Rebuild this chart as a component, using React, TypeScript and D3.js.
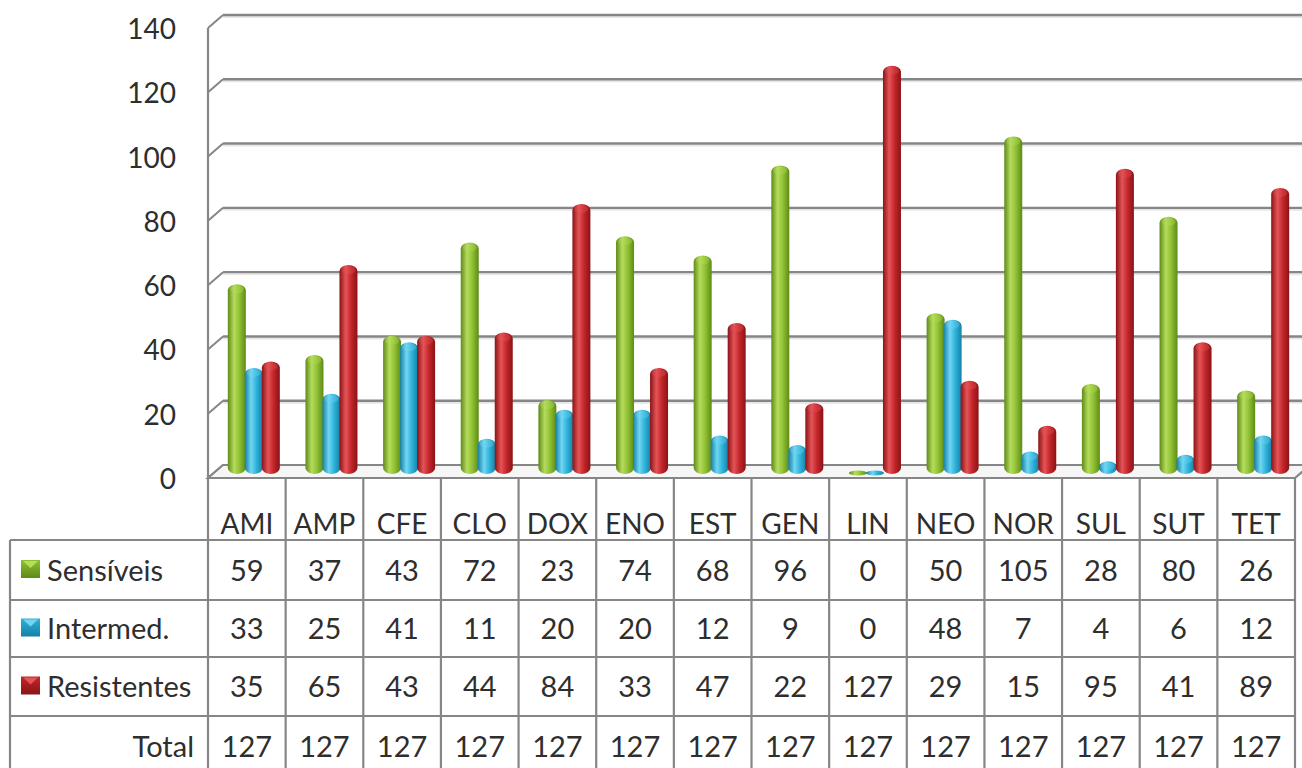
import React from "react";
import * as d3 from "d3";

const categories = ["AMI", "AMP", "CFE", "CLO", "DOX", "ENO", "EST", "GEN", "LIN", "NEO", "NOR", "SUL", "SUT", "TET"];
const sensiveis = [59, 37, 43, 72, 23, 74, 68, 96, 0, 50, 105, 28, 80, 26];
const intermed = [33, 25, 41, 11, 20, 20, 12, 9, 0, 48, 7, 4, 6, 12];
const resistentes = [35, 65, 43, 44, 84, 33, 47, 22, 127, 29, 15, 95, 41, 89];
const totals = [127, 127, 127, 127, 127, 127, 127, 127, 127, 127, 127, 127, 127, 127];
const seriesNames = ["Sensíveis", "Intermed.", "Resistentes"];
const yTicks = [0, 20, 40, 60, 80, 100, 120, 140];

const W = 1302;
const H = 768;
const FONT = "Lato, 'Open Sans', sans-serif";
const LINE = "#868686";
const TEXT = "#2e2e2e";

const palettes = [
  { id: "g", dark: "#5e8a17", mid: "#8fc033", light: "#b5dc5c" },
  { id: "b", dark: "#157fa6", mid: "#2eb2da", light: "#72d6f2" },
  { id: "r", dark: "#8a1316", mid: "#c3262b", light: "#e45457" },
];

export default function App() {
  const x = d3.scaleBand<string>().domain(categories).range([208, 1295]).padding(0);
  const yFront = d3.scaleLinear().domain([0, 140]).range([478, 28]);
  const yBar = d3.scaleLinear().domain([0, 140]).range([474, 24]);
  const depthX = 15;
  const depthY = 13;
  const bw = 18;
  const step = 17;
  const series = [sensiveis, intermed, resistentes];

  const rowTops = [540, 600, 657, 716];
  const rowBottoms = [600, 657, 716, 776];

  return (
    <svg width={W} height={H} style={{ position: "absolute", left: 0, top: 0, background: "#fff" }}>
      <defs>
        {palettes.map((p) => (
          <linearGradient key={p.id} id={"cyl-" + p.id} x1="0" x2="1" y1="0" y2="0">
            <stop offset="0" stopColor={p.dark} />
            <stop offset="0.35" stopColor={p.light} />
            <stop offset="0.65" stopColor={p.mid} />
            <stop offset="1" stopColor={p.dark} />
          </linearGradient>
        ))}
        {palettes.map((p) => (
          <linearGradient key={"l" + p.id} id={"leg-" + p.id} x1="0" x2="0" y1="0" y2="1">
            <stop offset="0" stopColor={p.mid} />
            <stop offset="1" stopColor={p.dark} />
          </linearGradient>
        ))}
      </defs>

      {/* back wall gridlines + left wall */}
      {yTicks.map((t) => (
        <g key={t}>
          <line x1={208} y1={yFront(t)} x2={208 + depthX} y2={yFront(t) - depthY} stroke={LINE} strokeWidth={2} />
          {t > 0 && (
            <>
              <line x1={208 + depthX} y1={yFront(t) - depthY + 2} x2={W + 10} y2={yFront(t) - depthY + 2} stroke="#e6e6e6" strokeWidth={2} />
              <line x1={208 + depthX} y1={yFront(t) - depthY} x2={W + 10} y2={yFront(t) - depthY} stroke={LINE} strokeWidth={2.4} />
            </>
          )}
          <text x={176} y={yFront(t)} textAnchor="end" dominantBaseline="central" fontFamily={FONT} fontSize={28} fill={TEXT}>
            {t}
          </text>
        </g>
      ))}
      <line x1={208} y1={yFront(140)} x2={208} y2={yFront(0)} stroke={LINE} strokeWidth={2.2} />

      {/* floor */}
      <polygon
        points={`208,${yFront(0)} 1295,${yFront(0)} ${1295 + depthX},${yFront(0) - depthY} 223,${yFront(0) - depthY}`}
        fill="#f6f6f6"
        stroke={LINE}
        strokeWidth={2.2}
      />

      {/* bars */}
      {categories.map((c, i) => {
        const cx = (x(c) as number) + x.bandwidth() / 2 + 7;
        return (
          <g key={c}>
            {series.map((s, k) => {
              const v = s[i];
              const left = cx + (k - 1) * step - bw / 2;
              if (v === 0) {
                return (
                  <ellipse key={k} cx={left + bw / 2} cy={yBar(0) - 1} rx={bw / 2} ry={2.5} fill={`url(#cyl-${palettes[k].id})`} />
                );
              }
              const top = yBar(v);
              const h = yBar(0) - top;
              return (
                <g key={k}>
                  <rect x={left} y={top} width={bw} height={h} rx={bw / 2} ry={6} fill={`url(#cyl-${palettes[k].id})`} />
                  <ellipse cx={left + bw / 2} cy={top + 5} rx={bw / 2 - 2} ry={4} fill={palettes[k].light} opacity={0.35} />
                </g>
              );
            })}
          </g>
        );
      })}

      {/* table */}
      <g fontFamily={FONT} fill={TEXT}>
        {categories.map((c) => (
          <line key={c} x1={x(c) as number} y1={yFront(0)} x2={x(c) as number} y2={H + 5} stroke={LINE} strokeWidth={2.2} />
        ))}
        <line x1={1295} y1={yFront(0)} x2={1295} y2={H + 5} stroke={LINE} strokeWidth={2.2} />
        <line x1={10} y1={540} x2={10} y2={H + 5} stroke={LINE} strokeWidth={2.2} />
        {rowTops.map((y) => (
          <line key={y} x1={10} y1={y} x2={1295} y2={y} stroke={LINE} strokeWidth={2.2} />
        ))}

        {categories.map((c) => (
          <text key={c} x={(x(c) as number) + x.bandwidth() / 2} y={523} textAnchor="middle" dominantBaseline="central" fontSize={28}>
            {c}
          </text>
        ))}

        {[sensiveis, intermed, resistentes, totals].map((row, r) => {
          const cy = (rowTops[r] + rowBottoms[r]) / 2 - 1;
          return (
            <g key={r}>
              {row.map((v, i) => (
                <text key={i} x={(x(categories[i]) as number) + x.bandwidth() / 2} y={cy} textAnchor="middle" dominantBaseline="central" fontSize={29}>
                  {v}
                </text>
              ))}
            </g>
          );
        })}

        {seriesNames.map((n, r) => {
          const cy = (rowTops[r] + rowBottoms[r]) / 2 - 1;
          const p = palettes[r];
          return (
            <g key={n}>
              <rect x={21} y={cy - 9} width={19} height={18} fill={`url(#leg-${p.id})`} />
              <polygon points={`23,${cy - 8} 38,${cy - 8} 30.5,${cy - 1}`} fill={p.light} />
              <text x={47} y={cy} dominantBaseline="central" fontSize={29}>
                {n}
              </text>
            </g>
          );
        })}
        <text x={194} y={(rowTops[3] + rowBottoms[3]) / 2 - 1} textAnchor="end" dominantBaseline="central" fontSize={29}>
          Total
        </text>
      </g>
    </svg>
  );
}
